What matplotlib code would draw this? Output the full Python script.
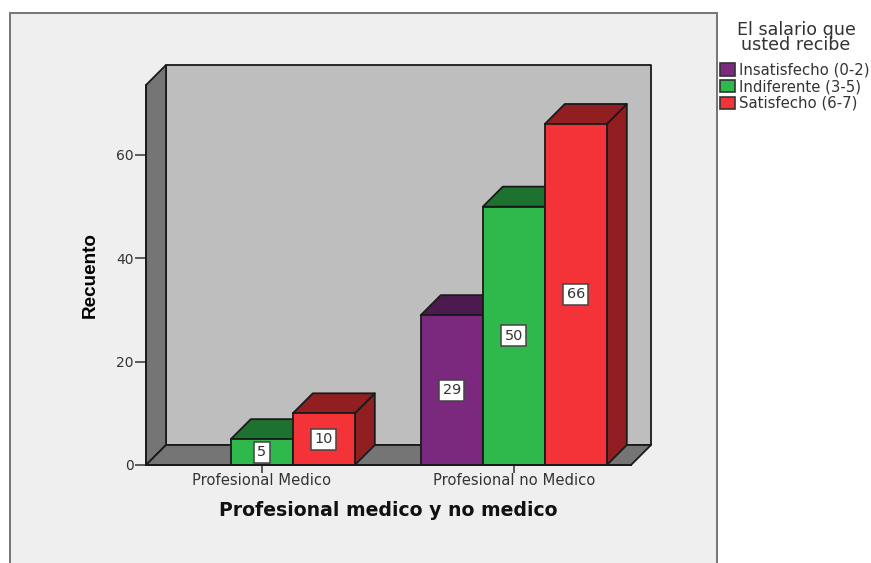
"""Clustered pseudo-3D bar chart of salary satisfaction by professional group."""
import matplotlib
matplotlib.use('Agg')
import matplotlib.pyplot as plt
from matplotlib.patches import Polygon, Rectangle

categories = ["Profesional Medico", "Profesional no Medico"]
series_names = ["Insatisfecho (0-2)", "Indiferente (3-5)", "Satisfecho (6-7)"]
series_values = [
    [0, 29],
    [5, 50],
    [10, 66],
]
y_ticks = [0, 20, 40, 60]

FRONT = ["#7b287f", "#2fb84c", "#f43339"]
SHADE = ["#4d1a50", "#1e722f", "#911f22"]
EDGE = "#1a1a1a"
TEXT_CLR = "#333333"

W, H = 871, 563
LEFT, RIGHT, BASE, TOP = 146, 631, 465, 85
PX_PER_UNIT = 5.167
GROUP_PX = 252
CENTER0_PX = 261.8
DEPTH_PX = 20

fig = plt.figure(figsize=(W / 100, H / 100), dpi=100, facecolor="white")


def fig_xy(px, py):
    return px / W, 1 - py / H


# outer panel runs off the bottom of the figure
fig.add_artist(Rectangle(fig_xy(10, 600), 707 / W, 587 / H, transform=fig.transFigure,
                         facecolor="#efefef", edgecolor="#757575", lw=1.4, zorder=-1))

ax = fig.add_axes([LEFT / W, 1 - BASE / H, (RIGHT - LEFT) / W, (BASE - TOP) / H])
ax.patch.set_alpha(0)
ax.set_xlim((LEFT - CENTER0_PX) / GROUP_PX, (RIGHT - CENTER0_PX) / GROUP_PX)
ax.set_ylim(0, (BASE - TOP) / PX_PER_UNIT)

xmin, xmax = ax.get_xlim()
ymin, ymax = ax.get_ylim()
dx = DEPTH_PX / GROUP_PX
dy = DEPTH_PX / PX_PER_UNIT
bar_w = 62.0 / GROUP_PX


def face(points, color, z=1):
    ax.add_patch(Polygon(points, closed=True, facecolor=color, edgecolor=EDGE,
                         lw=1.3, joinstyle="round", clip_on=False, zorder=z))


# back wall, side wall and floor
face([(xmin + dx, dy), (xmax + dx, dy), (xmax + dx, ymax + dy), (xmin + dx, ymax + dy)], "#bebebe")
face([(xmin, 0), (xmin + dx, dy), (xmin + dx, ymax + dy), (xmin, ymax)], "#757575")
face([(xmin, 0), (xmax, 0), (xmax + dx, dy), (xmin + dx, dy)], "#757575")

# bars go left to right so each one hides the side of its neighbour
z = 2
for cat in range(len(categories)):
    for s, values in enumerate(series_values):
        v = values[cat]
        if v == 0:
            continue
        x0 = cat + (s - 1.5) * bar_w
        x1 = x0 + bar_w
        face([(x1, 0), (x1 + dx, dy), (x1 + dx, v + dy), (x1, v)], SHADE[s], z)
        face([(x0, v), (x1, v), (x1 + dx, v + dy), (x0 + dx, v + dy)], SHADE[s], z)
        ax.bar(x0, v, bar_w, align="edge", color=FRONT[s], edgecolor=EDGE, lw=1.3,
               clip_on=False, zorder=z + 0.1)
        ax.text((x0 + x1) / 2, v / 2, str(v), ha="center", va="center", fontsize=10.4,
                color=TEXT_CLR, zorder=z + 0.2,
                bbox=dict(boxstyle="square,pad=0.24", facecolor="white", edgecolor="#444444", lw=1.1))
        z += 1

for name in ("top", "right"):
    ax.spines[name].set_visible(False)
for name in ("left", "bottom"):
    ax.spines[name].set_color(EDGE)
    ax.spines[name].set_linewidth(1.3)
    ax.spines[name].set_zorder(z + 1)

ax.set_yticks(y_ticks)
ax.set_xticks(range(len(categories)))
ax.set_xticklabels(categories)
ax.tick_params(axis="y", length=8, width=1.1, color="#333333", labelcolor=TEXT_CLR, labelsize=10, pad=1)
ax.tick_params(axis="x", length=5.5, width=1.1, color="#333333", labelcolor=TEXT_CLR, labelsize=10.6, pad=0.5)

fig.text(*fig_xy(90.5, 275), "Recuento", rotation=90, ha="center", va="center",
         fontsize=13.6, fontweight="bold", family="Liberation Sans", color="black")
fig.text(*fig_xy(388, 510), "Profesional medico y no medico", ha="center", va="center",
         fontsize=13.6, fontweight="bold", color="#111111")

# legend
fig.text(*fig_xy(796, 37.5), "El salario que\nusted recibe", ha="center", va="center", fontsize=12.6,
         linespacing=0.85, color=TEXT_CLR)
for i, name in enumerate(series_names):
    top = 63.5 + i * 16.6
    fig.add_artist(Rectangle(fig_xy(720, top + 12), 15 / W, 12 / H, transform=fig.transFigure,
                             facecolor=FRONT[i], edgecolor="#333333", lw=1.2))
    fig.text(*fig_xy(739, top + 6.5), name, ha="left", va="center", fontsize=10.7, color=TEXT_CLR)

fig.savefig("out.png", dpi=100, facecolor="white")
plt.close(fig)
